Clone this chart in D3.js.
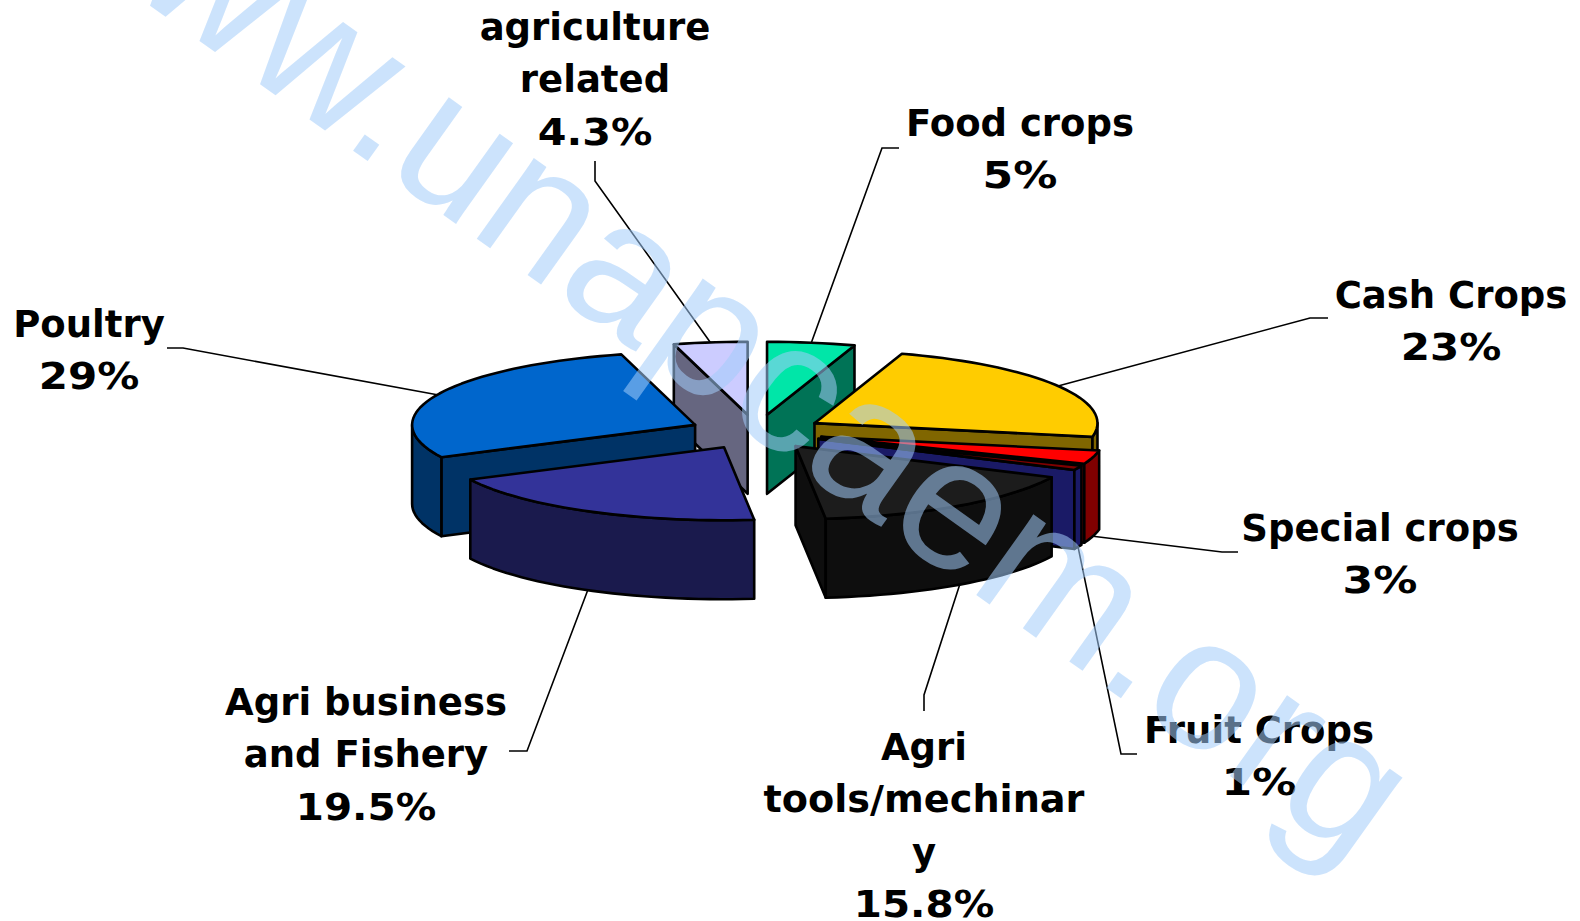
<!DOCTYPE html>
<html><head><meta charset="utf-8">
<script src="https://cdn.jsdelivr.net/npm/d3@7"></script>
<style>html,body{margin:0;background:#fff}svg{display:block}</style></head>
<body><svg id="c" width="1580" height="921"></svg>
<script>
// ---- data ----
const categories = ["Food crops","Cash Crops","Special crops","Fruit Crops","Agri tools/mechinary","Agri business and Fishery","Poultry","agriculture related"];
const labelLines = [["Food crops"],["Cash Crops"],["Special crops"],["Fruit Crops"],["Agri","tools/mechinar","y"],["Agri business","and Fishery"],["Poultry"],["agriculture","related"]];
const percentLabels = ["5%","23%","3%","1%","15.8%","19.5%","29%","4.3%"];
// slice shares as actually drawn
const shares = [5,23,3,1,16.3,19.4,28.1,4.2];
const topColors  = ["#00E6A8","#FFCC00","#FF0000","#800000","#1C1C1C","#333399","#0066CC","#CCCCFF"];
const wallColors = ["#007356","#806600","#800000","#1A1A66","#0E0E0E","#1A1A4D","#003366","#666680"];
const paintOrder = [7,0,6,1,2,3,5,4];
const watermarkText = "www.unapcaem.org";

// ---- layout ----
const cx=756.5, cy=432, rx=283, ry=73, depth=79, explode=0.238;
const labelX=[1020,1451,1380,1259,924,366,89,595];
const labelY=[136,308,541,743,760,715,337,40];
const lineH=52.3;
const elbows=[[[882,148],[899,148]],[[1310,318],[1328,318]],[[1222,552],[1238,552]],[[1121,754],[1137,754]],[[924,695],[924,711]],[[527,751],[509,751]],[[183,348],[167,348]],[[595,181],[595,161]]];

const svg=d3.select("#c");
const arcs=d3.pie().sort(null).value(d=>d)(shares);
const lineGen=d3.line();
const px=(c,a,r=1)=>[c[0]+rx*r*Math.sin(a), c[1]-ry*r*Math.cos(a)];
const down=p=>[p[0],p[1]+depth];
const gPie=svg.append("g");
const gLead=svg.insert("g","g");

const apexes=arcs.map(d=>px([cx,cy],(d.startAngle+d.endAngle)/2,explode));
function rimPts(c,a0,a1){const n=Math.max(2,Math.ceil((a1-a0)/0.04));return d3.range(n+1).map(i=>px(c,a0+(a1-a0)*i/n));}
function face(pts,fill){gPie.append("path").attr("d",lineGen(pts)+"Z").attr("fill",fill).attr("stroke","#000").attr("stroke-width",2.6).attr("stroke-linejoin","round");}

paintOrder.forEach(i=>{
  const d=arcs[i], c=apexes[i], a0=d.startAngle, a1=d.endAngle, w=wallColors[i];
  const rad=a=>{const p=px(c,a);face([c,p,down(p),down(c)],w);};
  if(Math.sin(a0)<-1e-6) rad(a0);
  if(Math.sin(a1)>1e-6) rad(a1);
  const s=Math.max(a0,Math.PI/2), e=Math.min(a1,Math.PI*1.5);
  if(e>s){const r=rimPts(c,s,e);face(r.concat(r.slice().reverse().map(down)),w);}
  face([c].concat(rimPts(c,a0,a1)),topColors[i]);
});

// leader lines
arcs.forEach((d,i)=>{
  const m=(d.startAngle+d.endAngle)/2;let p=px(apexes[i],m);
  if(Math.cos(m)<0)p=down(p);
  gLead.append("path").attr("d",lineGen([p,...elbows[i]])).attr("fill","none").attr("stroke","#000").attr("stroke-width",1.6);
});

// labels: Verdana's % and / are wider than DejaVu's, so those lines get stretched a little
categories.forEach((name,i)=>{
  const lines=labelLines[i].concat(percentLabels[i]);
  lines.forEach((l,k)=>{
    const t=svg.append("text").attr("text-anchor","middle").attr("font-family","'DejaVu Sans',sans-serif").attr("font-weight",700).attr("font-size",37).attr("fill","#000")
      .attr("x",labelX[i]).attr("y",labelY[i]+k*lineH).text(l);
    const extra=l.includes("%")?12:(l.includes("/")?10:0);
    if(extra) t.attr("textLength",t.node().getComputedTextLength()+extra).attr("lengthAdjust","spacingAndGlyphs");
  });
});

// watermark
svg.append("text").attr("transform","translate(715,348) rotate(35.5)").attr("text-anchor","middle").attr("dominant-baseline","middle")
  .attr("font-family","'Liberation Sans',sans-serif").attr("font-size",187).attr("fill","rgb(162,204,250)").attr("fill-opacity",0.55).text(watermarkText);
</script></body></html>
